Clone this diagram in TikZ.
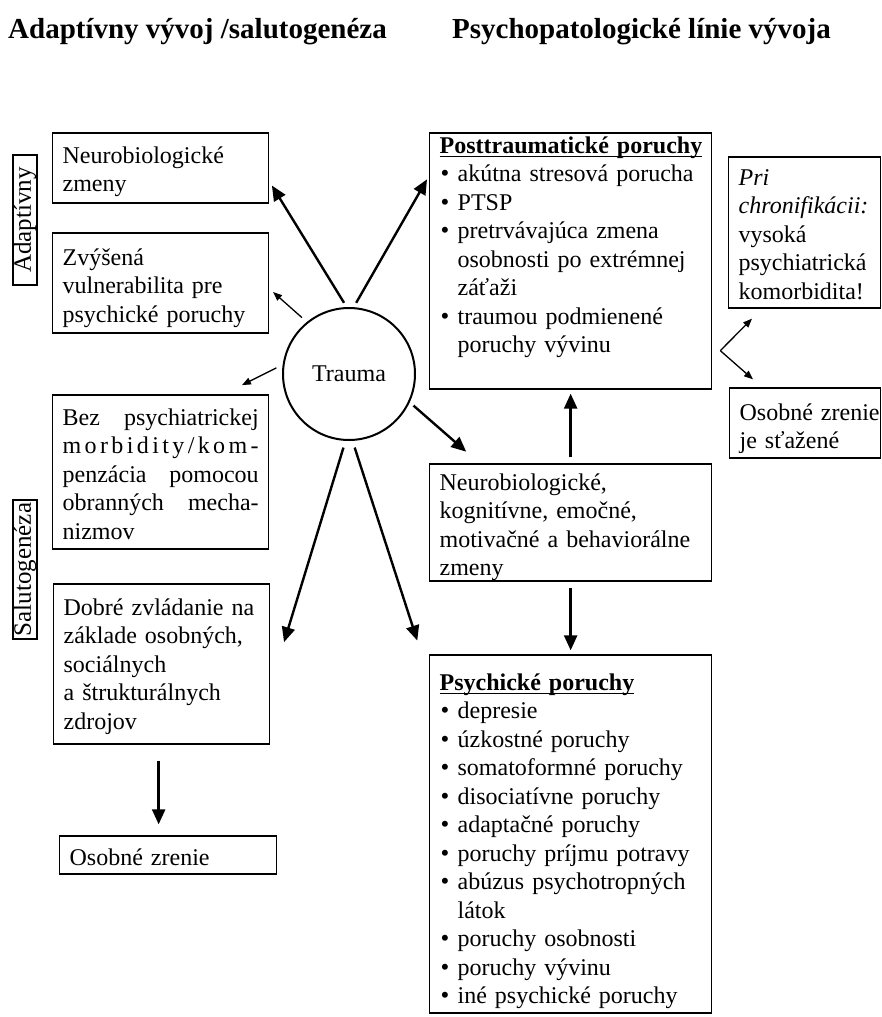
\documentclass[tikz,border=0pt]{standalone}
\usepackage{fontspec}
\setmainfont{Liberation Serif}
\usetikzlibrary{arrows.meta,calc}
\newsavebox\ulbox
\newcommand\myul[1]{\sbox\ulbox{#1}\rlap{\rule[-4pt]{\wd\ulbox}{1.1pt}}\usebox\ulbox}
\newcommand\bul{\makebox[18pt][l]{\hspace{1pt}\raisebox{0pt}{\fontsize{25pt}{25pt}\selectfont •}}}
\newcommand\ind{\hspace*{18pt}}
\newcommand\jline[1]{\leavevmode\hbox to \linewidth{#1}}
\tikzset{
  box/.style={draw, line width=1.3pt, anchor=base west, inner xsep=10pt, inner ysep=0pt, align=left},
  sidelab/.style={draw, line width=1.2pt, rotate=90, inner sep=0pt, font=\fontsize{25pt}{25pt}\selectfont},
  heading/.style={anchor=base west, inner sep=0pt, font=\fontsize{29pt}{34pt}\selectfont\bfseries},
  thickarr/.style={line width=2.4pt, -{Triangle[length=15pt,width=13pt]}},
  thinarr/.style={line width=1.3pt, -{Triangle[length=9pt,width=7pt]}}
}
\begin{document}
\begin{tikzpicture}[x=1pt,y=-1pt,font=\fontsize{24pt}{28.5pt}\selectfont]
\fill[white] (0,0) rectangle (881,1017);
\useasboundingbox (0,0) rectangle (881,1017);

% headings
\node[heading] (h1) at (8,38) {Adaptívny vývoj /salutogenéza};
\node[heading] (h2) at (452,38) {Psychopatologické línie vývoja};

% side labels
\node[sidelab, minimum width=130pt, minimum height=24pt] (ad) at (25,220) {Adaptívny};
\node[sidelab, minimum width=139pt, minimum height=24pt] (sa) at (25,569.5) {Salutogenéza};

% left boxes
\node[box, text width=196pt, text height=30pt, text depth=40pt] (nb) at (52,163)
  {Neurobiologické\\ zmeny};
\node[box, text width=196pt, text height=32pt, text depth=68pt] (vul) at (52,265)
  {Zvýšená\\ vulnerabilita pre\\ psychické poruchy};
\node[box, text width=196pt, text height=30pt, text depth=124pt] (bez) at (52,425)
  {\jline{Bez\hfill psychiatrickej}\\
   \jline{m\hfill o\hfill r\hfill b\hfill i\hfill d\hfill i\hfill t\hfill y\hfill /\hfill k\hfill o\hfill m\hfill -}\\
   \jline{penzácia\hfill pomocou}\\
   \jline{obranných\hfill mecha-}\\
   nizmov};
\node[box, text width=196pt, text height=31pt, text depth=129pt] (dob) at (53,615)
  {Dobré zvládanie na\\ základe osobných,\\ sociálnych\\ a štrukturálnych\\ zdrojov};
\node[box, text width=197pt, text height=29pt, text depth=9pt] (oz1) at (59,865)
  {Osobné zrenie};

% trauma
\node[circle, draw, line width=2pt, minimum size=132pt, inner sep=0pt] (tr) at (349,374) {Trauma};

% right boxes
\node[box, text width=262pt, text height=20pt, text depth=236pt] (pt) at (429,153)
  {\myul{\textbf{Posttraumatické poruchy}}\\
   \bul akútna stresová porucha\\
   \bul PTSP\\
   \bul pretrvávajúca zmena\\
   \ind osobnosti po extrémnej\\
   \ind záťaži\\
   \bul traumou podmienené\\
   \ind poruchy vývinu};
\node[box, text width=132pt, text height=28pt, text depth=123pt] (pri) at (728,185)
  {\textit{Pri}\\ \mbox{\textit{chronifikácii:}}\\ vysoká\\ \mbox{psychiatrická}\\ \mbox{komorbidita!}};
\node[box, text width=131pt, text height=32pt, text depth=38pt] (oz2) at (729,420)
  {\mbox{Osobné zrenie}\\ \mbox{je sťažené}};
\node[box, text width=262pt, text height=26pt, text depth=91pt] (mid) at (429,490)
  {Neurobiologické,\\ kognitívne, emočné,\\ \mbox{motivačné a behaviorálne}\\ zmeny};
\node[box, text width=262pt, text height=35pt, text depth=323pt] (psy) at (429,690)
  {\myul{\textbf{Psychické poruchy}}\\
   \bul depresie\\
   \bul úzkostné poruchy\\
   \bul somatoformné poruchy\\
   \bul disociatívne poruchy\\
   \bul adaptačné poruchy\\
   \bul poruchy príjmu potravy\\
   \bul abúzus psychotropných\\
   \ind látok\\
   \bul poruchy osobnosti\\
   \bul poruchy vývinu\\
   \bul iné psychické poruchy};

% arrows from trauma
\draw[thickarr, shorten <=5pt, shorten >=5pt] (tr.92) -- (nb.-7);
\draw[thickarr, shorten <=5pt, shorten >=4pt] (tr.86) -- (pt.149);
\draw[thinarr, shorten <=6.5pt, shorten >=5pt] (tr.129) -- (vul.-3.5);
\draw[thinarr, shorten <=7pt, shorten >=20.6pt] (tr.172) -- (bez.51.6);
\draw[thickarr, shorten <=5pt, shorten >=17.7pt] (tr.-25.8) -- (mid.147.5);
\draw[thickarr, shorten <=7pt, shorten >=47pt] (tr.-93.9) -- (dob.-12);
\draw[thickarr, shorten <=7pt, shorten >=38pt] (tr.-87.6) -- (psy.132.1);

% vertical arrows
\draw[thickarr, shorten <=6pt, shorten >=4pt] (mid.north) -- (pt.south);
\draw[thickarr, shorten <=6pt, shorten >=4pt] (mid.south) -- (psy.north);
\draw[thickarr, shorten <=16pt, shorten >=11pt] ($(dob.south)+(-3,0)$) -- ($(dob.south |- oz1.north)+(-3,0)$);

% fork
\coordinate (fork) at ($(pt.south east)+(8,-39)$);
\draw[thinarr] (fork) -- ($(pri.south west)+(24,10)$);
\draw[thinarr] (fork) -- ($(oz2.north west)+(24,-8)$);
\end{tikzpicture}
\end{document}
